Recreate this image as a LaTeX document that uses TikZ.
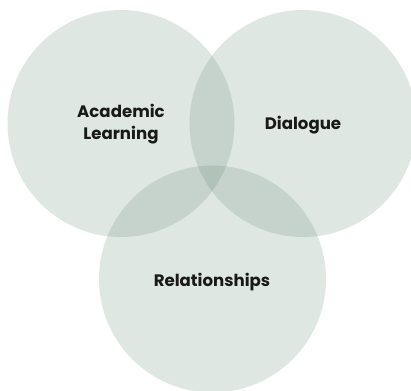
\documentclass[tikz,border=0pt]{standalone}
\usepackage{fontspec}
\setmainfont{Poppins}[BoldFont={Poppins Bold}]
\definecolor{venn}{RGB}{87,125,105}
\begin{document}
\begin{tikzpicture}[x=1pt,y=-1pt,
  venncircle/.style={fill=venn,fill opacity=0.19,draw=none},
  lbl/.style={font=\bfseries\fontsize{16.6}{22}\selectfont,text=black!90,align=center,inner sep=0pt}]
\useasboundingbox (0,0) rectangle (411,390);
\fill[venncircle] (121,123.5) circle (113.5);
\fill[venncircle] (303,123.5) circle (113.5);
\fill[venncircle] (212.5,279) circle (113.5);
\node[lbl] (al) at (121,124) {Academic\\Learning};
\node[lbl] (dl) at (303,125) {Dialogue};
\node[lbl] (rl) at (212,282) {Relationships};
\end{tikzpicture}
\end{document}
